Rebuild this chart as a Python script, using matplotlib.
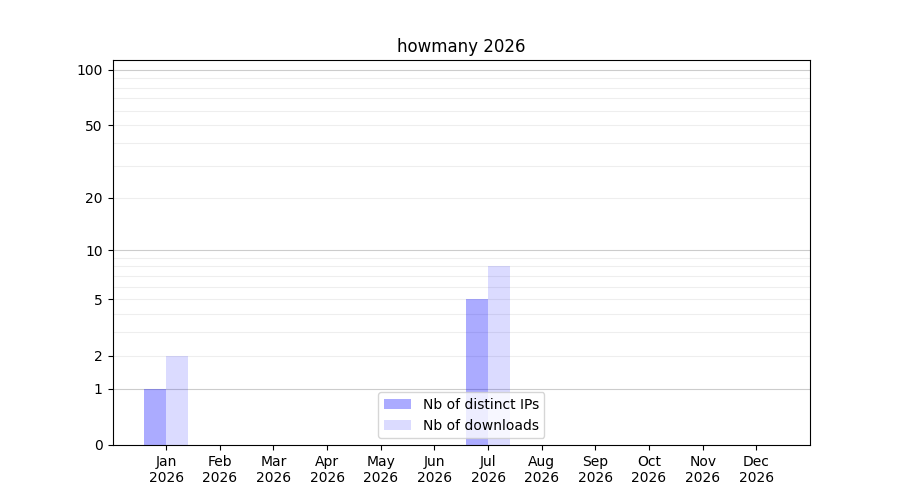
import numpy as np
import matplotlib
matplotlib.use('Agg')
import matplotlib.pyplot as plt

# monthly stats
months = ['Jan', 'Feb', 'Mar', 'Apr', 'May', 'Jun', 'Jul', 'Aug', 'Sep', 'Oct', 'Nov', 'Dec']
year = 2026
distinct_ips = [1, 0, 0, 0, 0, 0, 5, 0, 0, 0, 0, 0]
downloads = [2, 0, 0, 0, 0, 0, 8, 0, 0, 0, 0, 0]
ytick_vals = [0, 1, 2, 5, 10, 20, 50, 100]

def fwd(x):
  return np.log10(1 + np.clip(x, 0, None))

def inv(y):
  return 10 ** y - 1

fig, ax = plt.subplots(figsize=(9, 5), dpi=100)
x = np.arange(len(months))
w = 0.41
ax.bar(x - w / 2, distinct_ips, w, color='blue', alpha=0.33, label='Nb of distinct IPs', zorder=2)
ax.bar(x + w / 2, downloads, w, color='blue', alpha=0.14, label='Nb of downloads', zorder=2)

ax.set_yscale('function', functions=(fwd, inv))
ax.set_ylim(0, 113)
ax.set_xlim(-1, 12)

# grid lines: decades darker, the rest lighter
major_grid = [1, 10, 100]
minor_grid = [v * d for d in (1, 10) for v in range(2, 10)]
for v in minor_grid:
  ax.axhline(v, color='#eeeeee', lw=0.8, zorder=0)
for v in major_grid:
  ax.axhline(v, color='#cccccc', lw=0.8, zorder=0)

ax.set_yticks(ytick_vals)
ax.set_yticklabels([str(v) for v in ytick_vals])
ax.minorticks_off()
ax.set_xticks(x)
ax.set_xticklabels(['%s\n%d' % (m, year) for m in months])
ax.set_title('howmany %d' % year)
ax.legend(loc='lower center')

fig.savefig('out.png')
